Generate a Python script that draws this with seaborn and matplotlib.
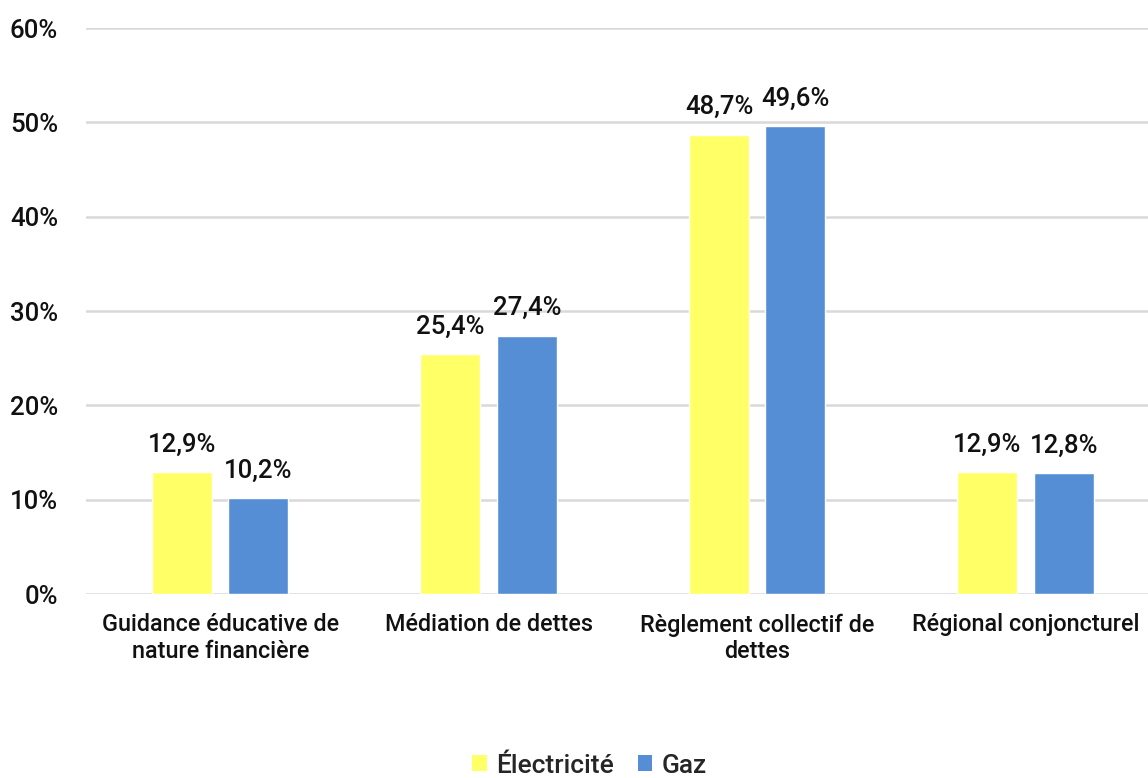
import matplotlib
matplotlib.use("Agg")
import matplotlib.pyplot as plt
import seaborn as sns
import pandas as pd
from matplotlib.patches import Patch

categories = ["Guidance éducative de\nnature financière", "Médiation de dettes",
              "Règlement collectif de\ndettes", "Régional conjoncturel"]
series = ["Électricité", "Gaz"]
electricite = [12.9, 25.4, 48.7, 12.9]
gaz = [10.2, 27.4, 49.6, 12.8]
y_ticks = [0, 10, 20, 30, 40, 50, 60]
colors = ["#FFFF66", "#558ED5"]

df = pd.DataFrame({
    "categorie": categories * 2,
    "energie": [series[0]] * 4 + [series[1]] * 4,
    "valeur": electricite + gaz,
})

sns.set_theme(style="white")
plt.rcParams["font.family"] = ["Roboto", "DejaVu Sans"]
plt.rcParams["font.weight"] = "medium"

fig = plt.figure(figsize=(11.48, 7.78), dpi=100)
ax = fig.add_axes([0.0749, 0.2365, 0.9355, 0.7275])

sns.barplot(data=df, x="categorie", y="valeur", hue="energie",
            order=categories, hue_order=series, palette=colors,
            width=0.57, gap=0.216, saturation=1, legend=False, ax=ax)

for container in ax.containers:
    ax.bar_label(container, labels=[f"{v:.1f}%".replace(".", ",") for v in container.datavalues],
                 padding=11, fontsize=18.5, color="#111111", fontweight="medium")

ax.set_ylim(0, 60)
ax.set_xlim(-0.5, 3.5)
ax.set_yticks(y_ticks)
ax.set_yticklabels([f"{t}%" for t in y_ticks], fontsize=18.5, color="#111111", fontweight="medium")
ax.tick_params(axis="y", length=0, pad=20)
ax.tick_params(axis="x", length=0, pad=14, labelsize=16.8, labelcolor="#111111")
for lbl in ax.get_xticklabels():
    lbl.set_fontweight("medium")
ax.set_xlabel("")
ax.set_ylabel("")
ax.yaxis.grid(True, color="#D9D9D9", linewidth=1.8)
ax.set_axisbelow(True)
for s in ax.spines.values():
    s.set_visible(False)

handles = [Patch(facecolor=c, edgecolor="none") for c in colors]
fig.legend(handles, series, loc="lower center", bbox_to_anchor=(0.5135, -0.03), ncol=2,
           frameon=False, prop={"size": 19, "weight": "medium"},
           handlelength=0.55, handleheight=0.55, handletextpad=0.35, columnspacing=0.9)

fig.savefig("out.png", dpi=100, facecolor="white")
